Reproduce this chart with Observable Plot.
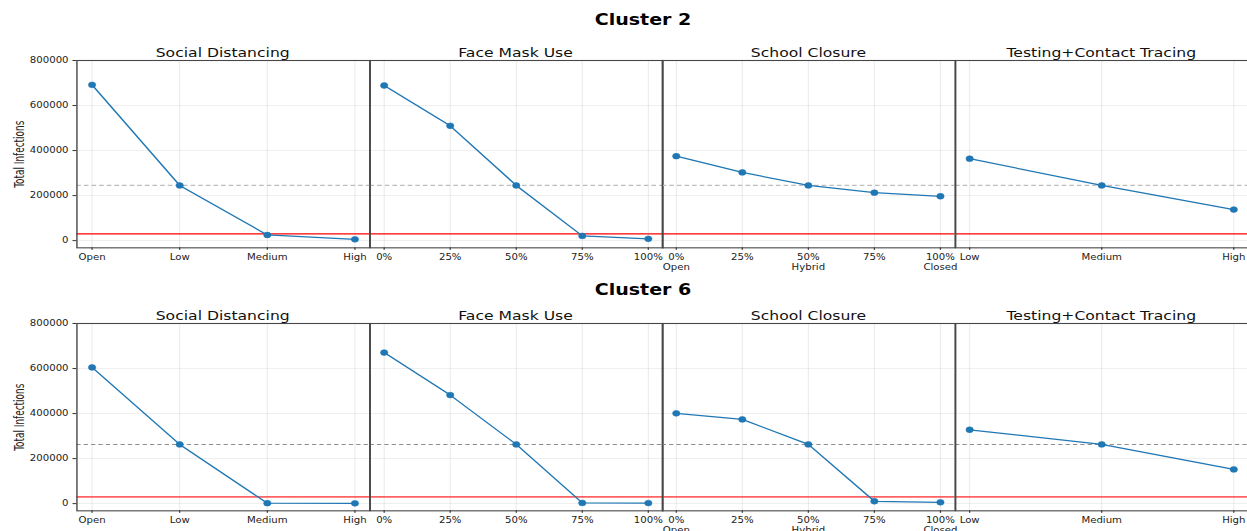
<!DOCTYPE html>
<html>
<head>
<meta charset="utf-8">
<script src="https://cdn.jsdelivr.net/npm/d3@7"></script>
<script src="https://cdn.jsdelivr.net/npm/@observablehq/plot@0.6"></script>
<style>
  html, body { margin: 0; padding: 0; background: #fff; overflow: hidden; }
  #fig { position: relative; transform-origin: 0 0; font-family: "DejaVu Sans", sans-serif; }
  .cell { position: absolute; }
  #overlay { position: absolute; left: 0; top: 0; pointer-events: none; }
</style>
</head>
<body>
<div id="fig"></div>
<script>
// ---------------- data ----------------
const clusterNames = ["Cluster 2", "Cluster 6"];
const panelTitles = ["Social Distancing", "Face Mask Use", "School Closure", "Testing+Contact Tracing"];

const levelsSocial = ["Open", "Low", "Medium", "High"];
const levelsMask = ["0%", "25%", "50%", "75%", "100%"];
const levelsSchool = ["0%", "25%", "50%", "75%", "100%"];
const labelsSchool = ["0%\nOpen", "25%", "50%\nHybrid", "75%", "100%\nClosed"];
const levelsTesting = ["Low", "Medium", "High"];

const cluster2Social = [692000, 245000, 25000, 6000];
const cluster2Mask = [689000, 510000, 245000, 21000, 8000];
const cluster2School = [375000, 303000, 245000, 213000, 197000];
const cluster2Testing = [364000, 245000, 138000];
const cluster2Baseline = 245000;

const cluster6Social = [605000, 263000, 2000, 1500];
const cluster6Mask = [671000, 482000, 263000, 3000, 2500];
const cluster6School = [401000, 374000, 263000, 10500, 6000];
const cluster6Testing = [328000, 263000, 152000];
const cluster6Baseline = 263000;

const threshold = 30000;
const yTicks = [0, 200000, 400000, 600000, 800000];
const yLabel = "Total Infections";

// ---------------- layout ----------------
const S = 1.27;                 // horizontal stretch of the reference
const W = 1247.7 / S;
const left0 = 76.3 / S;
const panelW = 292.85 / S;
const plotH = 187.35;
const marginBottom = 30;
const rowTops = [60, 323.3];

const fig = document.getElementById("fig");
fig.style.width = W + "px";
fig.style.height = "531px";
fig.style.transform = `scale(${S}, 1)`;

const rows = [
  {name: clusterNames[0], baseline: cluster2Baseline,
   series: [cluster2Social, cluster2Mask, cluster2School, cluster2Testing],
   dash: {stroke: "#bdbdbd", strokeWidth: 1.3, strokeDasharray: "3.6,2.4"},
   red: {stroke: "#ff0000", strokeWidth: 1.2, strokeOpacity: 1}},
  {name: clusterNames[1], baseline: cluster6Baseline,
   series: [cluster6Social, cluster6Mask, cluster6School, cluster6Testing],
   dash: {stroke: "#8f8f8f", strokeWidth: 1, strokeDasharray: "3.4,2.4"},
   red: {stroke: "#ff2020", strokeWidth: 1.9, strokeOpacity: 0.7}}
];
const panelLevels = [levelsSocial, levelsMask, levelsSchool, levelsTesting];
const panelLabels = [levelsSocial, levelsMask, labelsSchool, levelsTesting];

rows.forEach((row, r) => {
  row.series.forEach((vals, p) => {
    const levels = panelLevels[p];
    const labels = panelLabels[p];
    const data = levels.map((l, i) => ({level: l, value: vals[i]}));
    const first = p === 0;
    const ml = first ? left0 : 0;
    const marks = [
      Plot.gridX({stroke: "#000", strokeOpacity: 0.085, strokeWidth: 0.8}),
      Plot.gridY({ticks: yTicks, stroke: "#000", strokeOpacity: 0.085, strokeWidth: 0.8}),
      Plot.ruleY([row.baseline], row.dash),
      Plot.ruleY([threshold], row.red),
      Plot.line(data, {x: "level", y: "value", stroke: "#1f77b4", strokeWidth: 1.25}),
      Plot.dot(data, {x: "level", y: "value", r: 2.9, fill: "#1f77b4", stroke: "#1f77b4", strokeWidth: 0.5}),
      Plot.axisX({tickSize: 2.5, tickPadding: 2.8, fontSize: 8, lineHeight: 1.2, label: null,
                  tickFormat: d => labels[levels.indexOf(d)], stroke: "#333"}),
      Plot.frame({stroke: "#474747", strokeWidth: 1.1})
    ];
    if (first) {
      marks.push(Plot.axisY({ticks: yTicks, tickFormat: d => String(d), tickSize: 3, tickPadding: 3.6,
        fontSize: 8, label: yLabel, labelAnchor: "center", labelArrow: "none", labelOffset: 49.5, stroke: "#333"}));
    }
    const chart = Plot.plot({
      width: ml + panelW,
      height: plotH + marginBottom,
      marginTop: 0,
      marginBottom,
      marginLeft: ml,
      marginRight: 0,
      style: {overflow: "visible", background: "transparent", fontFamily: "DejaVu Sans, sans-serif", fontSize: "8px", color: "#222"},
      x: {type: "point", domain: levels, padding: 0.05 * (levels.length - 1), axis: null, label: null},
      y: {domain: [-32000, 800000], axis: null},
      marks
    });
    if (first) {
      // y label: narrow face, fixed length as in the reference
      d3.select(chart).selectAll('g[aria-label="y-axis label"] text')
        .attr("font-size", 11.5)
        .attr("font-family", "'Liberation Sans Narrow', 'DejaVu Sans Condensed', 'Liberation Sans', sans-serif")
        .attr("textLength", 67)
        .attr("lengthAdjust", "spacingAndGlyphs");
    }
    const cell = document.createElement("div");
    cell.className = "cell";
    cell.style.left = (first ? 0 : left0 + p * panelW) + "px";
    cell.style.top = rowTops[r] + "px";
    cell.style.width = (ml + panelW) + "px";
    cell.appendChild(chart);
    fig.appendChild(cell);
  });
});

// titles overlay
const overlay = d3.select(fig).append("svg").attr("id", "overlay")
  .attr("width", W).attr("height", 531);
const suptitleY = [25, 295.2];
const panelTitleY = [57.3, 319.6];
rows.forEach((row, r) => {
  overlay.append("text").attr("x", 643 / S).attr("y", suptitleY[r])
    .attr("text-anchor", "middle").attr("font-family", "DejaVu Sans, sans-serif")
    .attr("font-weight", "bold").attr("font-size", 15).attr("fill", "#000").text(row.name);
  panelTitles.forEach((t, p) => {
    overlay.append("text").attr("x", left0 + panelW * (p + 0.5)).attr("y", panelTitleY[r])
      .attr("text-anchor", "middle").attr("font-family", "DejaVu Sans, sans-serif")
      .attr("font-size", 12.3).attr("fill", "#111").text(t);
  });
});
</script>
</body>
</html>
